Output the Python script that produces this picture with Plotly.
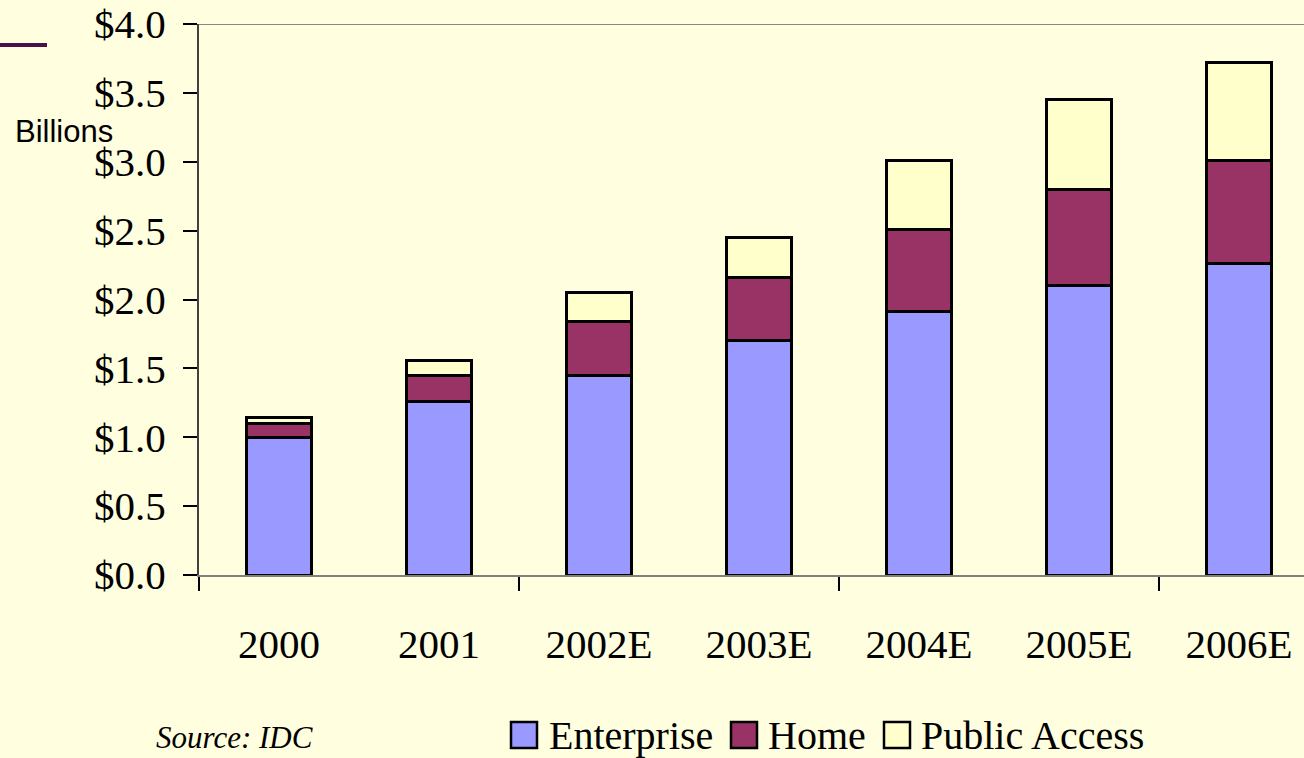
import plotly.graph_objects as go

categories = ["2000", "2001", "2002E", "2003E", "2004E", "2005E", "2006E"]
enterprise = [1.00, 1.26, 1.45, 1.70, 1.91, 2.10, 2.26]
home = [0.10, 0.19, 0.39, 0.46, 0.60, 0.70, 0.75]
public_access = [0.04, 0.11, 0.21, 0.29, 0.50, 0.65, 0.71]
series_names = ["Enterprise", "Home", "Public Access"]
series_colors = ["#9999FF", "#993366", "#FFFFCC"]
y_ticks = [0, 0.5, 1.0, 1.5, 2.0, 2.5, 3.0, 3.5, 4.0]

W, H = 1304, 758
ML, MR, MT, MB = 199, 0, 24, 183
PW, PH = W - ML - MR, H - MT - MB
BG = "#FFFFE0"
SERIF = "Liberation Serif, Times New Roman, serif"


def px_x(px):
    return (px - ML) / PW


def px_y(py):
    return (H - MB - py) / PH


xs = list(range(len(categories)))
fig = go.Figure()
for name, vals, col in zip(series_names, [enterprise, home, public_access], series_colors):
    fig.add_trace(go.Bar(
        x=xs, y=vals, name=name, width=0.41,
        marker=dict(color=col, line=dict(color="#000000", width=3)),
        showlegend=False,
    ))

# x range: categories spaced 160 px, first boundary at plot left
x_max = -0.5 + PW / 160.0

fig.update_layout(
    width=W, height=H,
    barmode="stack",
    paper_bgcolor=BG, plot_bgcolor=BG,
    margin=dict(l=ML, r=MR, t=MT, b=MB),
    xaxis=dict(
        range=[-0.5, x_max], tickmode="array", tickvals=xs, ticktext=categories,
        ticks="", ticklen=0, showgrid=False, zeroline=False,
        showline=True, linecolor="#808080", linewidth=2,
        tickfont=dict(family=SERIF, size=41, color="#000000"),
        ticklabelstandoff=32, automargin=False,
        minor=dict(tickmode="array", tickvals=[-0.5, 1.5, 3.5, 5.5], ticks="outside",
                   ticklen=14, tickcolor="#000000", tickwidth=1.5, showgrid=False),
    ),
    yaxis=dict(
        range=[0, 4], tickmode="array", tickvals=y_ticks,
        ticktext=["$%.1f" % v for v in y_ticks],
        ticks="outside", ticklen=14, tickcolor="#000000", tickwidth=1.5,
        showgrid=False, zeroline=False,
        showline=True, linecolor="#404040", linewidth=2,
        tickfont=dict(family=SERIF, size=41, color="#000000"),
        ticklabelstandoff=9, automargin=False,
    ),
)

# top border of plot area
fig.add_shape(type="line", xref="paper", yref="y", x0=0, x1=1, y0=4, y1=4,
              line=dict(color="#888888", width=2))
# decorative purple line at top-left
fig.add_shape(type="line", xref="paper", yref="paper", x0=px_x(0), x1=px_x(47),
              y0=px_y(45), y1=px_y(45), line=dict(color="#4B1048", width=4))

fig.add_annotation(text="Billions", xref="paper", yref="paper", x=px_x(13), y=px_y(131),
                   xanchor="left", yanchor="middle", showarrow=False,
                   font=dict(family="Liberation Sans, Arial, sans-serif", size=31, color="#000000"))

fig.add_annotation(text="<i>Source: IDC</i>", xref="paper", yref="paper", x=px_x(154), y=px_y(737),
                   xanchor="left", yanchor="middle", showarrow=False,
                   font=dict(family=SERIF, size=31, color="#000000"))

# manual legend
legend_sq = [511, 731, 884]
legend_tx = [547, 766, 919]
for name, col, sx, tx in zip(series_names, series_colors, legend_sq, legend_tx):
    fig.add_shape(type="rect", xref="paper", yref="paper",
                  x0=px_x(sx), x1=px_x(sx + 26), y0=px_y(722), y1=px_y(748),
                  fillcolor=col, line=dict(color="#000000", width=2.5))
    fig.add_annotation(text=name, xref="paper", yref="paper", x=px_x(tx), y=px_y(735),
                       xanchor="left", yanchor="middle", showarrow=False,
                       font=dict(family=SERIF, size=40, color="#000000"))

fig.write_html("out.html", config={"displayModeBar": False},
               post_script="document.body.style.margin='0';document.body.style.overflow='hidden';")
